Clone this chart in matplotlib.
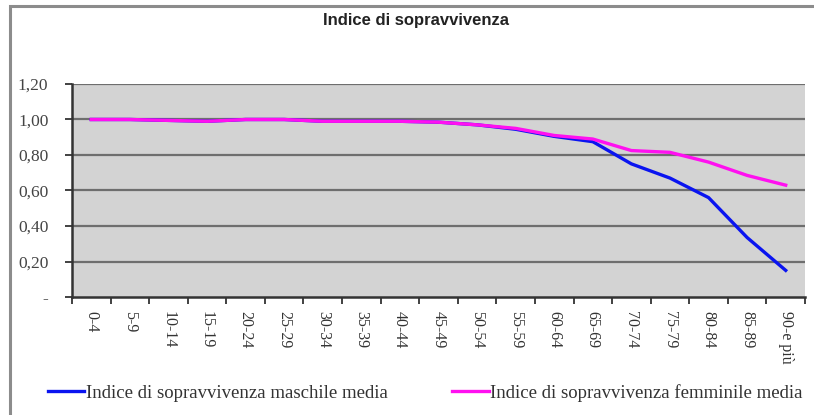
import matplotlib.pyplot as plt
import numpy as np
from matplotlib.patches import Rectangle
from matplotlib.ticker import FixedLocator, FuncFormatter

# Age classes and survival indices
classi = ['0-4', '5-9', '10-14', '15-19', '20-24', '25-29', '30-34', '35-39',
          '40-44', '45-49', '50-54', '55-59', '60-64', '65-69', '70-74',
          '75-79', '80-84', '85-89', '90-e più']
maschi = [1.00, 1.00, 0.995, 0.99, 1.00, 1.00, 0.99, 0.99, 0.99, 0.985,
          0.97, 0.945, 0.905, 0.875, 0.75, 0.67, 0.56, 0.335, 0.15]
femmine = [1.00, 1.00, 0.995, 0.99, 1.00, 1.00, 0.99, 0.99, 0.99, 0.985,
           0.97, 0.95, 0.91, 0.89, 0.825, 0.815, 0.76, 0.685, 0.63]

serif = 'Liberation Serif'
sans = 'Liberation Sans'

fig = plt.figure(figsize=(8.14, 4.15), dpi=100)
fig.patch.set_facecolor('white')

# outer chart frame
fig.patches.append(Rectangle((10 / 814, -0.05), 1.0, 1 - 6 / 415 + 0.05,
                             transform=fig.transFigure, fill=False,
                             edgecolor='#8c8c8c', linewidth=2.2))

ax = fig.add_axes([72 / 814, 1 - 297 / 415, (805 - 72) / 814, (297 - 84) / 415])
ax.set_facecolor('#d3d3d3')

x = np.arange(len(classi))
ax.plot(x, maschi, color='#0a14f0', linewidth=2.4, label='Indice di sopravvivenza maschile media', zorder=3)
ax.plot(x, femmine, color='#ff10f0', linewidth=2.4, label='Indice di sopravvivenza femminile media', zorder=3)

ax.set_xlim(-0.5, len(classi) - 0.5)
ax.set_ylim(0, 1.2)

yt = np.arange(0, 1.21, 0.2)
ax.set_yticks(yt)
ax.yaxis.set_major_formatter(FuncFormatter(lambda v, p: '-' if abs(v) < 1e-9 else f'{v:.2f}'.replace('.', ',')))
for v in yt[1:]:
    ax.axhline(v, color='#6e6e6e', linewidth=1.6, zorder=1)

ax.xaxis.set_major_locator(FixedLocator(np.arange(-0.5, len(classi), 1.0)))
ax.xaxis.set_major_formatter(FuncFormatter(lambda v, p: ''))
ax.set_xticks(x, minor=True)
ax.set_xticklabels(classi, minor=True, rotation=-90, fontsize=11.5, family=serif,
                   va='top', ha='center', color='#333333')
ax.tick_params(axis='x', which='minor', length=0, pad=10)
ax.tick_params(axis='x', which='major', length=5, width=1.3, color='#333333', direction='out')
ax.tick_params(axis='y', length=5, width=1.3, color='#333333', labelsize=12.5, pad=12)
for lab in ax.get_yticklabels():
    lab.set_family(serif)
    lab.set_color('#444444')

for s in ['top', 'right']:
    ax.spines[s].set_visible(False)
for s in ['left', 'bottom']:
    ax.spines[s].set_color('#333333')
    ax.spines[s].set_linewidth(1.8)

fig.text(416 / 814, 1 - 21 / 415, 'Indice di sopravvivenza', ha='center', va='center',
         fontsize=12, fontweight='bold', family=sans, color='#222222')

fig.legend(loc='center left', bbox_to_anchor=(31 / 814, 1 - 393 / 415), ncol=2,
           frameon=False, prop={'family': serif, 'size': 13.5},
           handlelength=1.95, handletextpad=0.1, columnspacing=3.4,
           labelcolor='#333333')

fig.savefig('out.png', dpi=100)
